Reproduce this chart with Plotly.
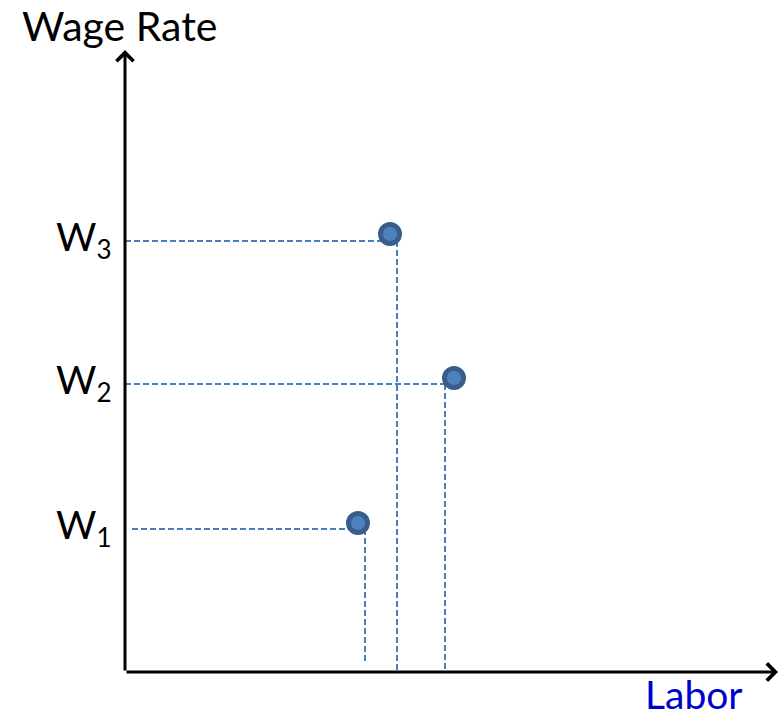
import plotly.graph_objects as go

# Data (units measured from the origin of the diagram)
wage_labels = ["W", "W", "W"]
wage_subs = ["1", "2", "3"]
labor = [233, 329, 265]          # labour quantity of each point
wage = [149, 294, 438]           # wage rate of each point
guide_wage = [143, 288, 431]     # height of horizontal guide lines
guide_h_start = [7, 0, 0]
guide_h_end = [233, 320, 262]
guide_labor = [240, 320, 272]    # x of vertical guide lines
guide_v_floor = [10, 0, 0]
x_axis_end = 653
y_axis_end = 622

GUIDE = "#4A7EBB"
FONT = "Lato"

fig = go.Figure()

for i in range(len(labor)):
    fig.add_trace(go.Scatter(
        x=[guide_h_start[i], guide_h_end[i]], y=[guide_wage[i], guide_wage[i]],
        mode="lines", line=dict(color=GUIDE, width=2, dash="6px,3px"),
        hoverinfo="skip"))
    fig.add_trace(go.Scatter(
        x=[guide_labor[i], guide_labor[i]], y=[guide_wage[i], guide_v_floor[i]],
        mode="lines", line=dict(color=GUIDE, width=2, dash="6px,3px"),
        hoverinfo="skip"))

fig.add_trace(go.Scatter(
    x=labor, y=wage, mode="markers",
    marker=dict(size=19, color="#4F81BD", line=dict(color="#385D8A", width=5))))

annotations = []
# axes with arrows
annotations.append(dict(x=0, y=y_axis_end, ax=0, ay=0, xref="x", yref="y",
                        axref="x", ayref="y", showarrow=True, arrowhead=4,
                        arrowsize=1.1, arrowwidth=3, arrowcolor="black", text="",
                        standoff=0))
annotations.append(dict(x=x_axis_end, y=0, ax=0, ay=0, xref="x", yref="y",
                        axref="x", ayref="y", showarrow=True, arrowhead=4,
                        arrowsize=1.1, arrowwidth=3, arrowcolor="black", text="",
                        standoff=0))
annotations.append(dict(x=-6, y=647, xref="x", yref="y", text="Wage Rate",
                        showarrow=False, xanchor="center", yanchor="middle",
                        font=dict(family=FONT, size=41, color="black")))
annotations.append(dict(x=569, y=-22, xref="x", yref="y", text="Labor",
                        showarrow=False, xanchor="center", yanchor="middle",
                        font=dict(family=FONT, size=39, color="#0000CC")))
for i, lab in enumerate(wage_labels):
    txt = lab + '<sub><span style="font-size:26px">' + wage_subs[i] + "</span></sub>"
    annotations.append(dict(x=-12, y=guide_wage[i] + 2, xref="x", yref="y", text=txt,
                            showarrow=False, xanchor="right", yanchor="middle",
                            font=dict(family=FONT, size=39, color="black")))

fig.update_layout(
    width=782, height=717,
    margin=dict(l=0, r=0, t=0, b=0),
    paper_bgcolor="white", plot_bgcolor="white",
    showlegend=False,
    xaxis=dict(range=[-125, 657], visible=False, fixedrange=True),
    yaxis=dict(range=[-45, 672], visible=False, fixedrange=True),
    annotations=annotations,
)

# remove the default 8px page margin so the figure fills the window exactly
fig.write_html("out.html", config={"displayModeBar": False},
               post_script="document.body.style.margin='0';document.body.style.overflow='hidden';")
